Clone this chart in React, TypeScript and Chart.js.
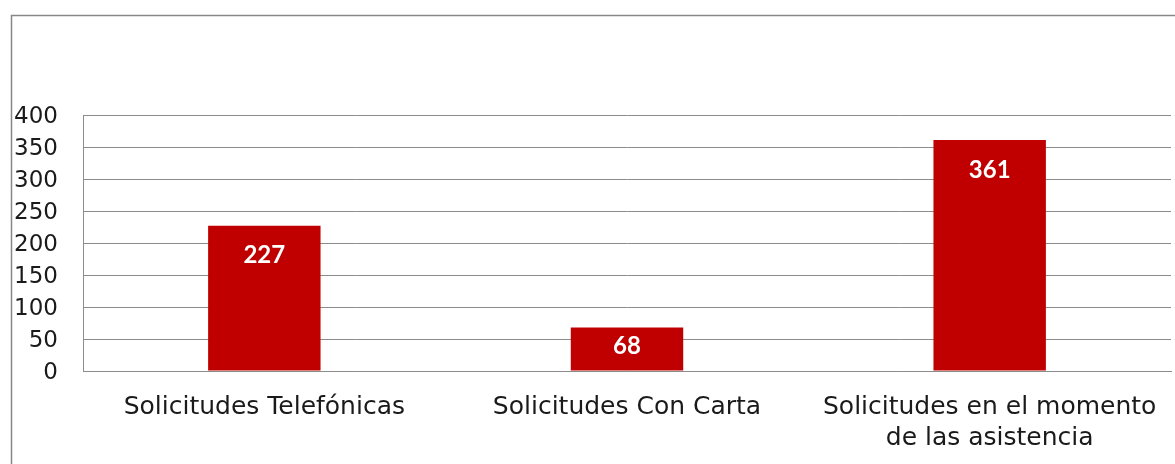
import React, { useEffect, useRef } from "react";
import { Chart, registerables } from "chart.js";

Chart.register(...registerables);

const categories: (string | string[])[] = [
  "Solicitudes Telefónicas",
  "Solicitudes Con Carta",
  ["Solicitudes en el momento", "de las asistencia"],
];
const values: number[] = [227, 68, 361];
const yTicks: number[] = [0, 50, 100, 150, 200, 250, 300, 350, 400];

const FONT = "'DejaVu Sans', 'Noto Sans', sans-serif";
const LABEL_FONT = "Lato, 'Noto Sans', sans-serif";
const BAR = "#C00000";
const GRID = "#8C8C8C";

const framePlugin = {
  id: "frame",
  beforeDraw(chart: any) {
    const ctx = chart.ctx;
    ctx.save();
    ctx.fillStyle = "#ffffff";
    ctx.fillRect(0, 0, chart.width, chart.height);
    ctx.strokeStyle = "#878787";
    ctx.lineWidth = 1.5;
    ctx.strokeRect(11.5, 15.5, chart.width + 20, chart.height + 40);
    ctx.restore();
  },
};

const labelPlugin = {
  id: "barLabels",
  afterDatasetsDraw(chart: any) {
    const ctx = chart.ctx;
    const meta = chart.getDatasetMeta(0);
    ctx.save();
    ctx.fillStyle = "#ffffff";
    ctx.font = `bold 24px ${LABEL_FONT}`;
    ctx.textAlign = "center";
    ctx.textBaseline = "middle";
    meta.data.forEach((bar: any, i: number) => {
      const top = bar.y;
      const base = bar.base;
      const y = Math.min(top + 30, (top + base) / 2 - 3);
      ctx.fillText(String(values[i]), bar.x, y);
    });
    ctx.restore();
  },
};

export default function App() {
  const ref = useRef<HTMLCanvasElement>(null);
  useEffect(() => {
    if (!ref.current) return;
    const chart = new Chart(ref.current, {
      type: "bar",
      data: {
        labels: categories as any,
        datasets: [
          {
            data: values,
            backgroundColor: BAR,
            borderWidth: 0,
            barPercentage: 0.31,
            categoryPercentage: 1,
          },
        ],
      },
      options: {
        animation: false,
        responsive: false,
        maintainAspectRatio: false,
        layout: { padding: { top: 115, right: 4, left: 0, bottom: 0 } },
        plugins: { legend: { display: false }, tooltip: { enabled: false } },
        scales: {
          x: {
            grid: { display: false, drawTicks: false },
            border: { display: true, color: GRID, width: 1 },
            ticks: {
              color: "#1a1a1a",
              font: { family: FONT, size: 25, lineHeight: 1.24 },
              padding: 21,
              maxRotation: 0,
              autoSkip: false,
            },
            afterFit: (s: any) => {
              s.height = 93;
              s.paddingLeft = 0;
              s.paddingRight = 0;
            },
          },
          y: {
            min: 0,
            max: 400,
            afterBuildTicks: (s: any) => {
              s.ticks = yTicks.map((v) => ({ value: v }));
            },
            grid: { color: GRID, lineWidth: 1, drawTicks: false },
            border: { display: true, color: GRID, width: 1 },
            ticks: {
              color: "#1a1a1a",
              font: { family: FONT, size: 23 },
              padding: 25,
              labelOffset: 2,
            },
            afterFit: (s: any) => {
              s.width = 83;
              s.paddingTop = 0;
              s.paddingBottom = 0;
            },
          },
        },
      },
      plugins: [framePlugin, labelPlugin],
    });
    return () => chart.destroy();
  }, []);
  return (
    <div style={{ position: "fixed", left: 0, top: 0, width: 1175, height: 464 }}>
      <canvas ref={ref} width={1175} height={464} style={{ display: "block" }} />
    </div>
  );
}
